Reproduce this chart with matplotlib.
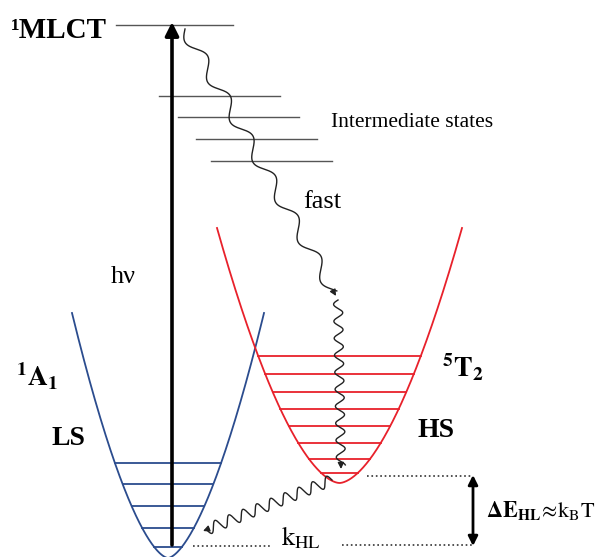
import numpy as np
import matplotlib
matplotlib.use('Agg')
import matplotlib.pyplot as plt

plt.rcParams['font.family'] = ['Liberation Serif', 'DejaVu Serif']
plt.rcParams['mathtext.fontset'] = 'stix'

# all positions are in image pixels (y grows downwards)
mlct_y = 25
mlct_x = [116, 233]
inter_y = [96, 117, 139, 161]
inter_x0 = [159, 178, 196, 211]
inter_x1 = [280, 299, 317, 332]

# potential wells: centre x, bottom y, top y, exponent, scale
ls_well = [168, 558, 313, 1.6, 0.165]
hs_well = [339.5, 483, 228, 1.7, 0.0719]
ls_levels = [463, 484, 506, 528, 547]
hs_levels = [356, 374, 392, 409, 426, 443, 459, 473]

blue = '#2b4c8e'
red = '#e8212b'
grey = '#555555'


def well_halfwidth(well, y):
    cx, vy, ty, p, c = well
    return ((vy - y) / c) ** (1.0 / p)


def draw_well(ax, well, levels, color):
    cx, vy, ty, p, c = well
    hw = well_halfwidth(well, ty)
    x = np.linspace(cx - hw, cx + hw, 400)
    y = vy - c * np.abs(x - cx) ** p
    ax.plot(x, y, color=color, lw=1.3)
    for lv in levels:
        h = well_halfwidth(well, lv)
        ax.plot([cx - h, cx + h], [lv, lv], color=color, lw=1.3)


def wavy(ax, start, end, wavelength, amp, head=True):
    x0, y0 = start
    x1, y1 = end
    L = np.hypot(x1 - x0, y1 - y0)
    ux, uy = (x1 - x0) / L, (y1 - y0) / L
    s = np.linspace(0, L - 4, 600)
    off = amp * np.sin(2 * np.pi * s / wavelength)
    xs = x0 + ux * s - uy * off
    ys = y0 + uy * s + ux * off
    ax.plot(xs, ys, color='#222222', lw=1.0)
    if head:
        ax.annotate('', xy=(x1, y1), xytext=(x1 - ux * 6, y1 - uy * 6),
                    arrowprops=dict(arrowstyle='-|>', color='#222222', lw=1.0,
                                    mutation_scale=9, shrinkA=0, shrinkB=0))


fig = plt.figure(figsize=(6.01, 5.57), dpi=100)
ax = fig.add_axes([0, 0, 1, 1])
ax.set_xlim(0, 601)
ax.set_ylim(557, 0)
ax.axis('off')

# 1MLCT and intermediate state levels
ax.plot(mlct_x, [mlct_y, mlct_y], color=grey, lw=1.0)
for y, a, b in zip(inter_y, inter_x0, inter_x1):
    ax.plot([a, b], [y, y], color=grey, lw=1.0)

# potential wells
draw_well(ax, ls_well, ls_levels, blue)
draw_well(ax, hs_well, hs_levels, red)

# excitation arrow
ax.annotate('', xy=(172, 22), xytext=(172, 545),
            arrowprops=dict(arrowstyle='-|>', color='black', lw=2.6,
                            mutation_scale=20, shrinkA=0, shrinkB=0))

# relaxation paths
wavy(ax, (185, 29), (336, 296), 46, 6.5)
wavy(ax, (338, 300), (341, 469), 17, 4.5)
wavy(ax, (332, 480), (203, 531), 15, 5.5)

# energy gap
ax.plot([193, 272], [546, 546], ':', color='#333333', lw=1.2)
ax.plot([342, 472], [545, 545], ':', color='#333333', lw=1.2)
ax.plot([367, 472], [476, 476], ':', color='#333333', lw=1.2)
ax.annotate('', xy=(473, 475), xytext=(473, 546),
            arrowprops=dict(arrowstyle='<|-|>', color='black', lw=2.0,
                            mutation_scale=14, shrinkA=0, shrinkB=0))

# labels
ax.text(11, 38, '¹MLCT', fontsize=21, fontweight='bold', va='baseline')
ax.text(331, 127, 'Intermediate states', fontsize=15.5, va='baseline')
ax.text(303, 208, 'fast', fontsize=19, va='baseline')
ax.text(111, 283, 'hν', fontsize=19, va='baseline')
ax.text(16, 386, r'$\mathbf{^1A_1}$', fontsize=20, va='baseline')
ax.text(52, 445, 'LS', fontsize=20, fontweight='bold', va='baseline')
ax.text(442, 377, r'$\mathbf{^5T_2}$', fontsize=20, va='baseline')
ax.text(417, 437, 'HS', fontsize=20, fontweight='bold', va='baseline')
ax.text(281, 545, r'$\mathrm{k_{HL}}$', fontsize=19, va='baseline')
ax.text(486, 518, r'$\mathbf{\Delta E_{HL}}\!\approx\! \mathrm{k_B T}$',
        fontsize=16, va='baseline')

fig.savefig('out.png', dpi=100)
